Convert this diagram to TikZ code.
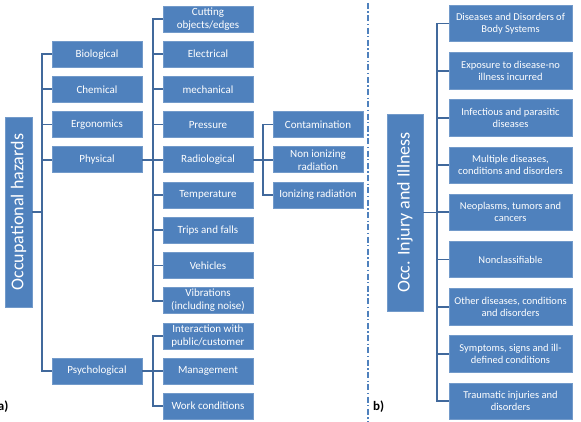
\documentclass[tikz,border=0pt]{standalone}
\usepackage{fontspec}
\setmainfont{Carlito}
\usepackage{xcolor}
\usetikzlibrary{positioning}
\definecolor{boxblue}{HTML}{4F81BD}
\definecolor{lineblue}{HTML}{41699C}
\begin{document}
\begin{tikzpicture}[
  x=1pt, y=-1pt,
  box/.style={draw=boxblue!80!white, line width=0.6pt, fill=boxblue, text=white, align=center,
    minimum width=90pt, minimum height=26pt, inner sep=1pt, outer sep=0pt, font=\fontsize{11}{13}\selectfont},
  wbox/.style={box, minimum width=123pt, minimum height=36.5pt, font=\fontsize{10.5}{12}\selectfont},
  root/.style={box, rotate=90, font=\fontsize{18}{20}\selectfont},
  conn/.style={draw=lineblue, line width=1.8pt},
  sep/.style={draw=boxblue, line width=1.3pt, dash pattern=on 6pt off 2.5pt on 1.3pt off 2.5pt},
  tag/.style={inner sep=0pt, font=\fontsize{13}{15}\selectfont\bfseries},
  node distance=9.2pt and 21pt]
\useasboundingbox (0,0) rectangle (581,422);
% a) hazards tree
\node[root, minimum width=190pt, minimum height=27pt] (occ) at (18.5,212) {Occupational hazards};
\node[box] (cut) at (208,19) {Cutting\\objects/edges};
\node[box, below=of cut] (elec) {Electrical};
\node[box, below=of elec] (mech) {mechanical};
\node[box, below=of mech] (pres) {Pressure};
\node[box, below=of pres] (rad) {Radiological};
\node[box, below=of rad] (temp) {Temperature};
\node[box, below=of temp] (trip) {Trips and falls};
\node[box, below=of trip] (veh) {Vehicles};
\node[box, below=of veh] (vib) {Vibrations\\(including noise)};
\node[box, below=of vib] (inter) {Interaction with\\public/customer};
\node[box, below=of inter] (mgmt) {Management};
\node[box, below=of mgmt] (work) {Work conditions};
\node[box, left=of elec] (bio) {Biological};
\node[box, left=of mech] (chem) {Chemical};
\node[box, left=of pres] (ergo) {Ergonomics};
\node[box, left=of rad] (phys) {Physical};
\node[box, left=of mgmt] (psy) {Psychological};
\node[box, right=20pt of pres] (cont) {Contamination};
\node[box, below=of cont] (nonion) {Non ionizing\\radiation};
\node[box, below=of nonion] (ion) {Ionizing radiation};
\node[tag, anchor=east] (laba) at (8.5,407) {a)};
% b) injury and illness
\node[root, minimum width=197pt, minimum height=36pt] (occii) at (405,212.5) {Occ. Injury and Illness};
\node[wbox] (body) at (510.5,23.5) {Diseases and Disorders of\\Body Systems};
\node[wbox, below=10.7pt of body] (expo) {Exposure to disease-no\\illness incurred};
\node[wbox, below=10.7pt of expo] (infec) {Infectious and parasitic\\diseases};
\node[wbox, below=10.7pt of infec] (multi) {Multiple diseases,\\conditions and disorders};
\node[wbox, below=10.7pt of multi] (neo) {Neoplasms, tumors and\\cancers};
\node[wbox, below=10.7pt of neo] (noncl) {Nonclassifiable};
\node[wbox, below=10.7pt of noncl] (other) {Other diseases, conditions\\and disorders};
\node[wbox, below=10.7pt of other] (symp) {Symptoms, signs and ill-\\defined conditions};
\node[wbox, below=10.7pt of symp] (trau) {Traumatic injuries and\\disorders};
\node[tag, anchor=west] (labb) at (373,407) {b)};
% divider
\draw[sep] (368,3) -- (368,422);
% connectors a)
\draw[conn] (occ.south) -- ++(10,0);
\draw[conn] (bio.west) -- ++(-10,0) |- (psy.west);
\draw[conn] (chem.west) -- ++(-10,0);
\draw[conn] (ergo.west) -- ++(-10,0);
\draw[conn] (phys.west) -- ++(-10,0);
\draw[conn] (cut.west) -- ++(-10,0) |- (vib.west);
\draw[conn] (phys.east) -- (rad.west);
\draw[conn] (elec.west) -- ++(-10,0);
\draw[conn] (mech.west) -- ++(-10,0);
\draw[conn] (pres.west) -- ++(-10,0);
\draw[conn] (temp.west) -- ++(-10,0);
\draw[conn] (trip.west) -- ++(-10,0);
\draw[conn] (veh.west) -- ++(-10,0);
\draw[conn] (inter.west) -- ++(-10,0) |- (work.west);
\draw[conn] (psy.east) -- (mgmt.west);
\draw[conn] (cont.west) -- ++(-10,0) |- (ion.west);
\draw[conn] (rad.east) -- (nonion.west);
% connectors b)
\draw[conn] (occii.south) -- ++(14,0);
\draw[conn] (body.west) -- ++(-12,0) |- (trau.west);
\draw[conn] (expo.west) -- ++(-12,0);
\draw[conn] (infec.west) -- ++(-12,0);
\draw[conn] (multi.west) -- ++(-12,0);
\draw[conn] (neo.west) -- ++(-12,0);
\draw[conn] (noncl.west) -- ++(-12,0);
\draw[conn] (other.west) -- ++(-12,0);
\draw[conn] (symp.west) -- ++(-12,0);
\end{tikzpicture}
\end{document}
